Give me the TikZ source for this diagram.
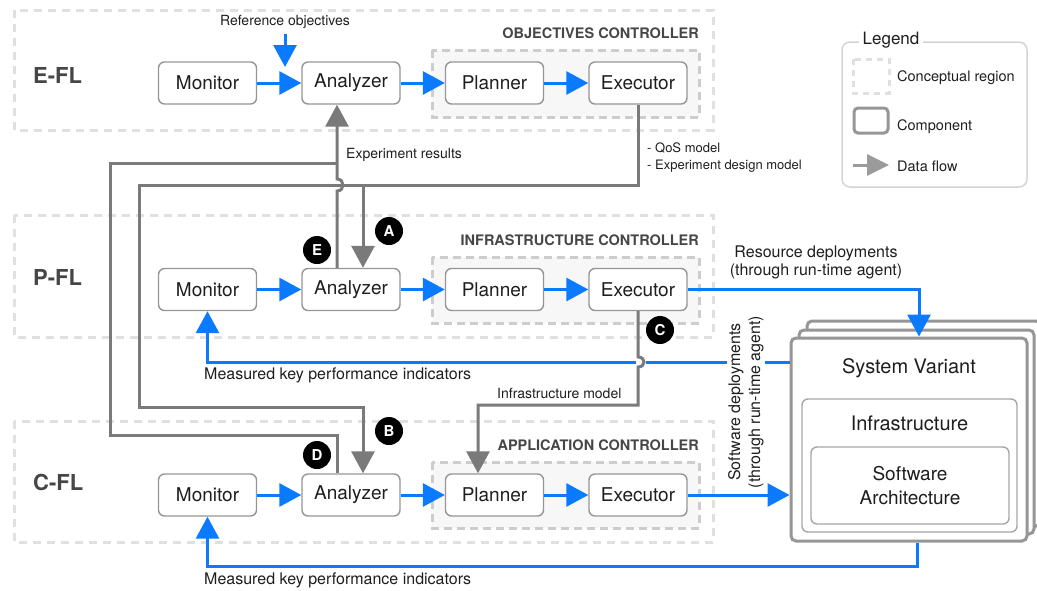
\documentclass[tikz,border=0pt]{standalone}
\usepackage{fontspec}
\setmainfont{TeX Gyre Heros}
\usetikzlibrary{arrows.meta,calc}
\definecolor{flowblue}{RGB}{10,122,255}
\definecolor{flowgray}{RGB}{122,122,122}
\definecolor{compgray}{RGB}{150,150,150}
\definecolor{regiongray}{RGB}{224,224,224}
\definecolor{innergray}{RGB}{205,205,205}
\definecolor{innerfill}{RGB}{247,247,247}
\definecolor{legendgray}{RGB}{212,212,212}
\definecolor{legarrow}{RGB}{155,155,155}
\definecolor{txt}{RGB}{30,30,30}
\definecolor{lbl}{RGB}{70,70,70}
\begin{document}
\begin{tikzpicture}[x=1pt,y=-1pt,
 comp/.style={draw=compgray, line width=1.4pt, rounded corners=6pt, fill=white, minimum width=98pt, minimum height=42pt, inner sep=0pt, text=txt, font=\fontsize{19pt}{22pt}\selectfont},
 region/.style={draw=regiongray, line width=3pt, dash pattern=on 8pt off 6pt},
 innerreg/.style={draw=innergray, fill=innerfill, line width=3pt, dash pattern=on 8pt off 5pt},
 barrow/.style={draw=flowblue, line width=3pt, -{Triangle[length=22pt,width=23pt]}},
 garrow/.style={draw=flowgray, line width=3pt, -{Triangle[length=22pt,width=23pt]}},
 gline/.style={draw=flowgray, line width=3pt},
 smalllabel/.style={font=\fontsize{14pt}{17pt}\selectfont, text=txt, inner sep=0pt},
 biglabel/.style={font=\fontsize{16pt}{18pt}\selectfont, text=txt, inner sep=0pt},
 levlabel/.style={font=\bfseries\fontsize{22pt}{24pt}\selectfont, text=lbl, anchor=west, inner sep=0pt},
 ctrllabel/.style={font=\bfseries\fontsize{14.5pt}{16pt}\selectfont, text=lbl, anchor=east, inner sep=0pt},
 badge/.style={circle, fill=black, text=white, minimum size=28pt, inner sep=0pt, font=\bfseries\fontsize{15pt}{15pt}\selectfont},
 svbox/.style={draw=compgray, line width=3pt, rounded corners=5pt, fill=white, inner sep=0pt},
 infrabox/.style={draw=compgray!85, line width=1.4pt, rounded corners=6pt, fill=white, inner sep=0pt},
 legtext/.style={font=\fontsize{14.5pt}{17pt}\selectfont, text=txt, anchor=west, inner sep=0pt},
]
\useasboundingbox (0,0) rectangle (1037,590);

% ---------- regions ----------
\draw[region] (14,10) rectangle (713,130);
\draw[region] (14,215) rectangle (713,337);
\draw[region] (14,421) rectangle (713,542);
\draw[innerreg] (432,50) rectangle (699,117);
\draw[innerreg] (432,257) rectangle (699,323);
\draw[innerreg] (432,462) rectangle (699,528);

\node[levlabel] (lE) at (33,75) {E-FL};
\node[levlabel] (lP) at (33,277) {P-FL};
\node[levlabel] (lC) at (33,482) {C-FL};
\node[ctrllabel] (cE) at (699,33) {OBJECTIVES CONTROLLER};
\node[ctrllabel] (cP) at (699,240) {INFRASTRUCTURE CONTROLLER};
\node[ctrllabel] (cC) at (699,445) {APPLICATION CONTROLLER};

% ---------- components ----------
\node[comp] (moE) at (207.5,83) {Monitor};
\node[comp] (anE) at (351,83) {Analyzer};
\node[comp] (plE) at (494.5,83) {Planner};
\node[comp] (exE) at (638,83) {Executor};
\node[comp] (moP) at (207.5,289.5) {Monitor};
\node[comp] (anP) at (351,289.5) {Analyzer};
\node[comp] (plP) at (494.5,289.5) {Planner};
\node[comp] (exP) at (638,289.5) {Executor};
\node[comp] (moC) at (207.5,495) {Monitor};
\node[comp] (anC) at (351,495) {Analyzer};
\node[comp] (plC) at (494.5,495) {Planner};
\node[comp] (exC) at (638,495) {Executor};

% ---------- system variant stack ----------
\node[svbox, minimum width=234pt, minimum height=205pt] (sv3) at (924,423.5) {};
\node[svbox, minimum width=235pt, minimum height=204pt] (sv2) at (916.5,432) {};
\node[svbox, minimum width=236pt, minimum height=203pt] (sv) at (909,439.5) {};
\node[font=\fontsize{20pt}{22pt}\selectfont, text=txt] (svt) at (909,368) {System Variant};
\node[infrabox, minimum width=215pt, minimum height=133pt] (infra) at (909.5,465.5) {};
\node[font=\fontsize{20pt}{22pt}\selectfont, text=txt] (infrat) at (909.5,423) {Infrastructure};
\node[infrabox, minimum width=198pt, minimum height=77pt, align=center, text=txt, font=\fontsize{19pt}{24pt}\selectfont] (sa) at (910,485.5) {Software\\Architecture};

% ---------- gray data flows ----------
\coordinate (jE) at (337,163);
\coordinate (jA) at (363,185);
\draw[garrow] ($(anP.north)+(-14,0)$) -- (337,191) .. controls (345,191) and (345,179) .. (337,179) -- ($(anE.south)+(-14,0)$);
\draw[gline] ($(anC.north)+(-14,0)$) -- (337,435) -- (110,435) -- (110,163) -- (jE);
\draw[garrow] (exE.south) |- (jA) -- ($(anP.north)+(12,0)$);
\draw[garrow] (jA) -- (139,185) -- (139,407) -- (363,407) -- ($(anC.north)+(12,0)$);

% ---------- blue data flows ----------
\foreach \r in {E,P,C}{
  \draw[barrow] (mo\r) -- (an\r);
  \draw[barrow] (an\r) -- (pl\r);
  \draw[barrow] (pl\r) -- (ex\r);
}
\node[smalllabel] (refobj) at (285,22) {Reference objectives};
\coordinate (refend) at (285,67);
\draw[barrow, shorten <=5pt] (refobj.south) -- (refend);

\draw[barrow] (exP.east) -| ($(sv.north)+(10,0)$);
\coordinate (kpiP) at (791,362);
\draw[barrow] (sv.west |- kpiP) -| (moP.south);
\draw[barrow] (exC.east) -- (sv.west |- exC.east);
\coordinate (kpiC) at (917,566);
\draw[barrow] ($(sv.south)+(8,0)$) |- (moC.south |- kpiC) -- (moC.south);

% infrastructure model (hops over the blue line)
\coordinate (gapa) at (636,362);
\coordinate (gapb) at (646,362);
\draw[white, line width=4pt] (gapa) -- (gapb);
\draw[garrow] (exP.south) -- (638,357) .. controls (646,357) and (646,367) .. (638,367) -- (638,405) -- (478,405) -- ($(plC.north)+(-16.5,0)$);

% ---------- labels ----------
\node[smalllabel, anchor=west] (expres) at (346,155) {Experiment results};
\node[anchor=west, align=left, inner sep=0pt, text=txt, font=\fontsize{13pt}{17pt}\selectfont] (qos) at (647,157.5) {- QoS model\\- Experiment design model};
\node[smalllabel, anchor=west] (inframod) at (497,393) {Infrastructure model};
\node[biglabel, anchor=west] (kpiPl) at (204,375) {Measured key performance indicators};
\node[biglabel, anchor=west] (kpiCl) at (204,580) {Measured key performance indicators};
\node[biglabel, align=center] (resdep) at (816,262) {Resource deployments\\(through run-time agent)};
\node[font=\fontsize{16pt}{20pt}\selectfont, text=txt, align=center, rotate=90, fill=white, inner sep=1pt] (swdep) at (746,402) {Software deployments\\(through run-time agent)};

% ---------- badges ----------
\node[badge] (bA) at (389,231) {A};
\node[badge] (bE) at (317,250) {E};
\node[badge] (bB) at (389,431) {B};
\node[badge] (bD) at (317,455) {D};
\node[badge] (bC) at (660,330) {C};

% ---------- legend ----------
\draw[draw=legendgray, line width=1.5pt, rounded corners=8pt] (842,42) rectangle (1027,187);
\node[fill=white, inner sep=4pt, text=txt, font=\fontsize{17pt}{19pt}\selectfont] (legt) at (891,40) {Legend};
\draw[region, dash pattern=on 6pt off 5pt] (853,59) rectangle (889,93);
\node[legtext] (lg1) at (897,78) {Conceptual region};
\draw[draw=compgray, line width=3pt, rounded corners=4pt] (854,108) rectangle (888,133);
\node[legtext] (lg2) at (897,127) {Component};
\coordinate (lga) at (853,165);
\coordinate (lgb) at (889,165);
\draw[draw=legarrow, line width=3pt, -{Triangle[length=22pt,width=21pt]}] (lga) -- (lgb);
\node[legtext] (lg3) at (897,166) {Data flow};
\end{tikzpicture}
\end{document}
